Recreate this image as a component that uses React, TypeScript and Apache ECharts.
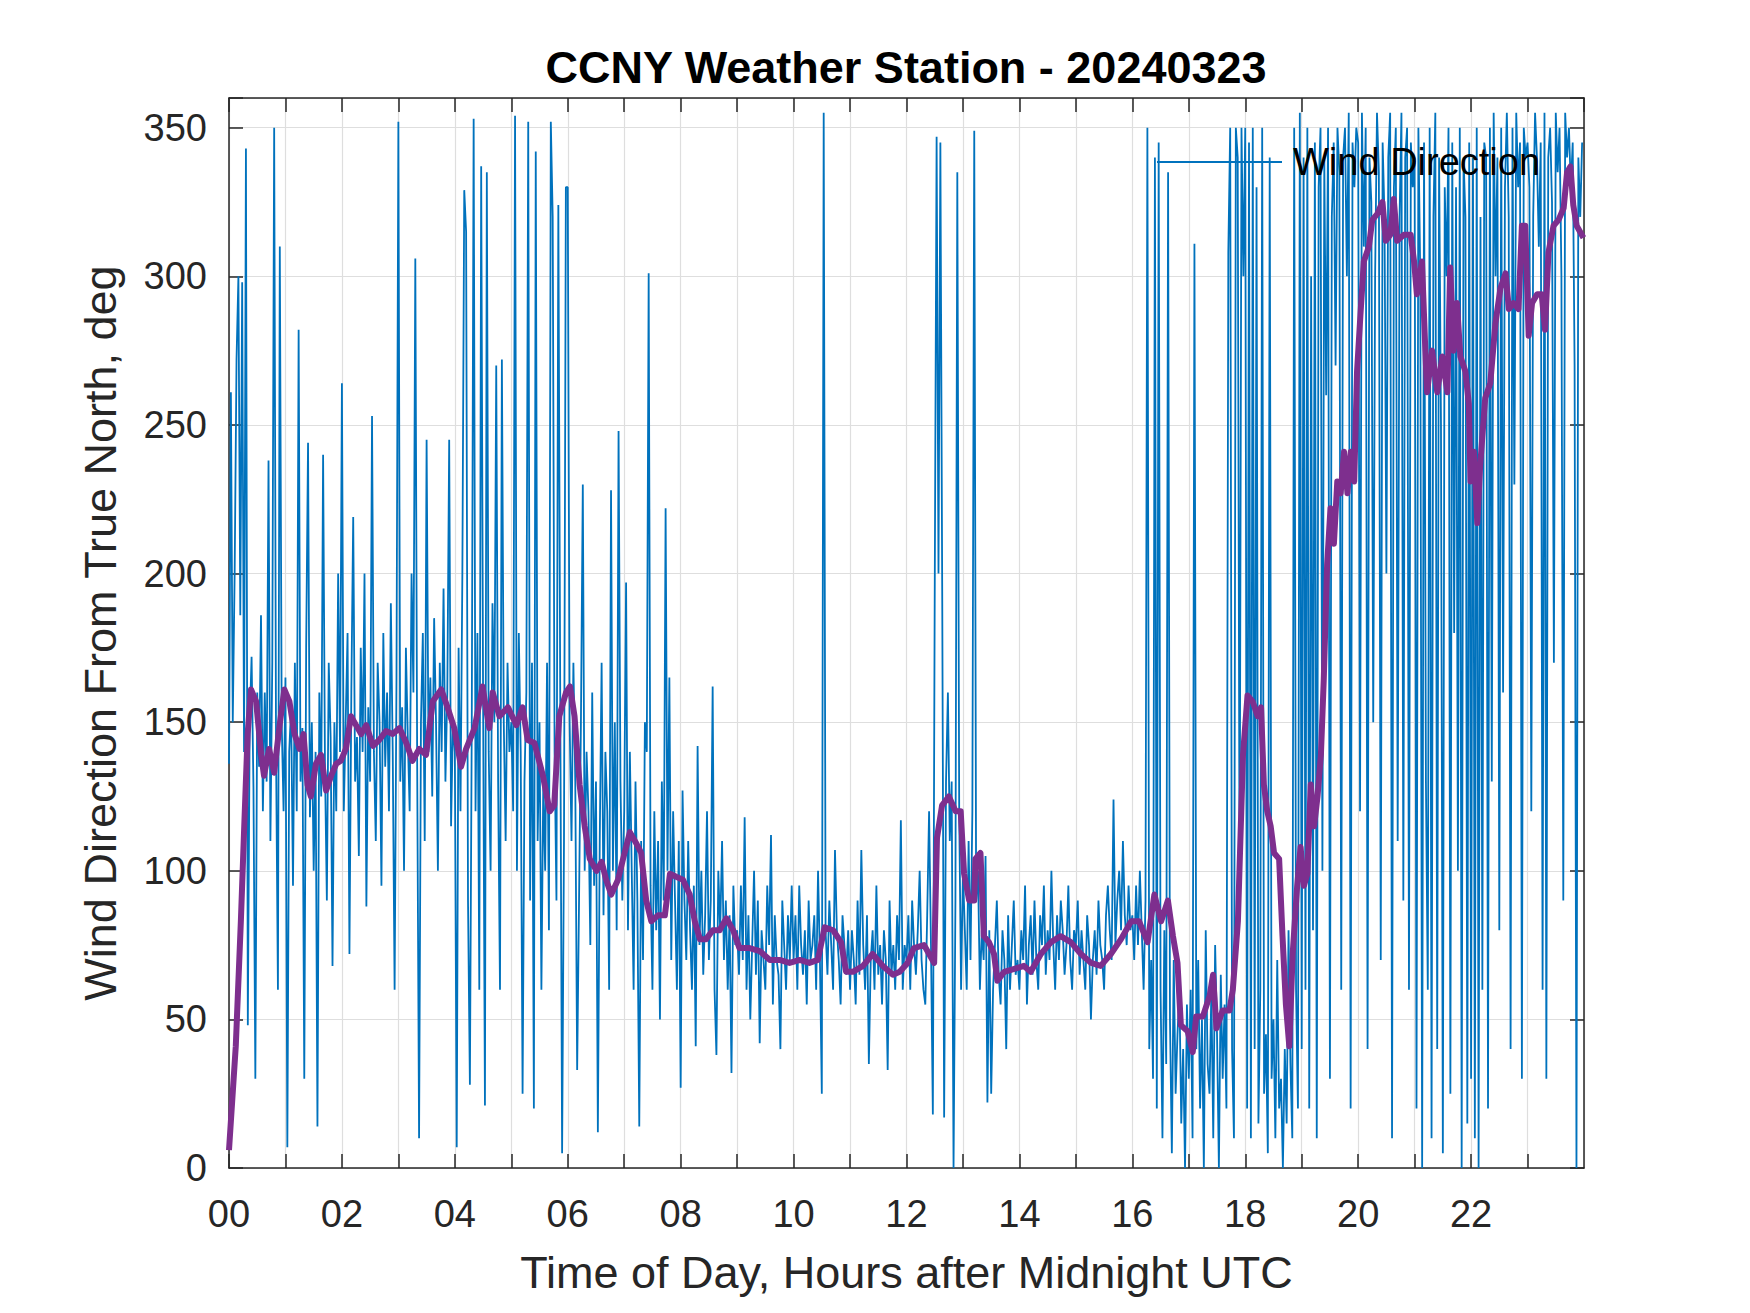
import { useEffect, useRef } from "react";
import * as echarts from "echarts";

// wind direction samples, one every 2 minutes, 4 hours per block
const dirH00to03 = [
  136, 261, 150, 200, 272, 300, 186, 298, 140, 343, 48, 150, 172, 128, 30, 160, 135, 186, 120, 160, 130, 238, 110, 170, 350, 140, 60, 310, 150, 120,
  165, 7, 140, 155, 95, 170, 120, 282, 130, 148, 30, 175, 244, 118, 150, 100, 140, 14, 160, 125, 240, 135, 90, 170, 145, 68, 150, 120, 200, 140,
  264, 120, 150, 180, 72, 160, 219, 130, 145, 105, 175, 140, 200, 88, 155, 130, 253, 140, 110, 170, 150, 95, 180, 135, 160, 120, 190, 140, 60, 165,
  352, 130, 155, 100, 175, 145, 120, 200, 160, 306, 135, 10, 150, 180, 110, 245, 140, 165, 125, 185, 150, 100, 170, 140, 195, 130, 160, 245, 115, 150,
];
const dirH04to07 = [
  140, 7, 175, 120, 200, 329, 315, 90, 28, 150, 353, 120, 180, 60, 337, 160, 21, 335, 140, 100, 190, 150, 270, 130, 60, 272, 150, 110, 170, 140,
  150, 120, 354, 100, 180, 140, 25, 130, 160, 352, 90, 170, 20, 342, 110, 150, 60, 130, 100, 170, 80, 352, 320, 140, 90, 324, 160, 5, 110, 330,
  330, 150, 110, 170, 130, 33, 90, 150, 230, 100, 140, 120, 75, 160, 95, 130, 12, 110, 170, 85, 140, 120, 60, 228, 100, 150, 80, 248, 130, 90,
  120, 197, 80, 140, 100, 60, 130, 90, 14, 110, 70, 150, 140, 301, 95, 60, 120, 80, 110, 50, 130, 90, 222, 100, 165, 70, 120, 90, 60, 110,
];
const dirH08to11 = [
  27, 127, 90, 70, 110, 80, 60, 95, 41, 142, 75, 100, 65, 85, 120, 70, 90, 162, 60, 38, 100, 80, 110, 70, 90, 60, 85, 32, 95, 75,
  80, 65, 95, 70, 118, 60, 85, 50, 75, 100, 65, 90, 42, 80, 70, 60, 95, 75, 112, 55, 85, 70, 65, 40, 90, 75, 60, 85, 70, 95,
  70, 85, 60, 95, 75, 65, 80, 55, 90, 70, 75, 85, 60, 100, 70, 25, 355, 80, 65, 90, 75, 60, 107, 80, 70, 55, 85, 75, 65, 80,
  60, 80, 70, 55, 90, 65, 107, 75, 60, 85, 35, 70, 80, 60, 95, 65, 75, 55, 80, 70, 33, 90, 65, 75, 60, 85, 70, 117, 60, 75,
];
const dirH12to15 = [
  70, 85, 60, 90, 75, 65, 80, 100, 70, 60, 55, 85, 120, 75, 18, 194, 347, 200, 345, 190, 17, 130, 160, 110, 130, 0, 90, 335, 120, 60,
  100, 80, 60, 110, 70, 120, 349, 90, 100, 60, 80, 70, 105, 22, 80, 25, 60, 75, 90, 65, 55, 80, 70, 40, 85, 60, 75, 90, 65, 70,
  60, 80, 70, 95, 55, 75, 85, 65, 90, 70, 60, 85, 75, 95, 65, 80, 70, 100, 75, 60, 85, 70, 90, 80, 65, 75, 95, 70, 60, 80,
  75, 90, 65, 80, 70, 60, 85, 75, 50, 70, 80, 65, 90, 75, 70, 60, 85, 95, 80, 70, 124, 75, 90, 100, 80, 110, 85, 75, 95, 80,
];
const dirH16to19 = [
  85, 70, 95, 75, 100, 80, 60, 90, 350, 40, 70, 30, 340, 20, 345, 60, 10, 80, 35, 335, 50, 5, 70, 25, 45, 60, 15, 40, 0, 55,
  30, 60, 10, 311, 40, 70, 20, 50, 0, 80, 35, 25, 60, 10, 75, 45, 0, 65, 30, 55, 20, 308, 350, 40, 10, 350, 340, 90, 350, 300,
  350, 20, 345, 10, 350, 40, 330, 15, 60, 350, 25, 45, 5, 340, 30, 50, 10, 70, 20, 30, 0, 40, 15, 80, 35, 10, 350, 60, 20, 355,
  40, 340, 60, 350, 20, 300, 80, 345, 10, 330, 350, 100, 340, 260, 350, 30, 320, 345, 270, 350, 335, 60, 340, 350, 300, 355, 20, 345, 330, 350,
];
const dirH20to23 = [
  345, 120, 355, 310, 350, 40, 340, 325, 150, 300, 355, 335, 70, 345, 320, 200, 340, 355, 10, 330, 350, 110, 320, 355, 90, 340, 350, 60, 345, 330,
  340, 20, 350, 300, 0, 345, 130, 60, 350, 10, 320, 355, 40, 340, 250, 5, 330, 300, 350, 25, 345, 180, 330, 100, 350, 0, 340, 320, 15, 345,
  30, 340, 10, 350, 0, 320, 60, 345, 340, 20, 350, 130, 355, 300, 340, 80, 350, 160, 330, 355, 320, 40, 350, 230, 355, 330, 345, 30, 350, 340,
  345, 330, 120, 320, 355, 340, 310, 345, 60, 355, 30, 340, 350, 325, 170, 355, 335, 350, 300, 90, 355, 340, 350, 330, 345, 270, 0, 340, 320, 345,
];

const avgHours = [
  0.0, 0.12, 0.21, 0.27, 0.33, 0.39, 0.48, 0.57, 0.62, 0.71, 0.8, 0.89, 0.98, 1.07, 1.16, 1.25, 1.32, 1.39, 1.45, 1.54,
  1.63, 1.72, 1.81, 1.9, 1.98, 2.07, 2.16, 2.25, 2.34, 2.43, 2.55, 2.66, 2.78, 2.9, 3.02, 3.14, 3.25, 3.37, 3.49, 3.61,
  3.76, 3.87, 3.99, 4.11, 4.2, 4.35, 4.49, 4.61, 4.67, 4.79, 4.94, 5.09, 5.2, 5.29, 5.41, 5.56, 5.68, 5.76, 5.85, 5.97,
  6.04, 6.12, 6.21, 6.3, 6.39, 6.51, 6.6, 6.68, 6.77, 6.89, 6.98, 7.1, 7.22, 7.3, 7.39, 7.48, 7.6, 7.72, 7.81, 7.92,
  8.04, 8.16, 8.25, 8.34, 8.45, 8.57, 8.69, 8.81, 8.93, 9.04, 9.22, 9.4, 9.58, 9.75, 9.93, 10.11, 10.28, 10.43, 10.55, 10.7,
  10.84, 10.93, 11.05, 11.23, 11.4, 11.58, 11.76, 11.88, 12.02, 12.13, 12.31, 12.49, 12.54, 12.63, 12.75, 12.87, 12.96, 13.02, 13.11, 13.2,
  13.22, 13.31, 13.37, 13.46, 13.55, 13.61, 13.73, 13.91, 14.08, 14.2, 14.38, 14.56, 14.73, 14.91, 15.09, 15.27, 15.44, 15.62, 15.8, 15.98,
  16.12, 16.27, 16.39, 16.51, 16.63, 16.72, 16.8, 16.86, 16.98, 17.07, 17.13, 17.25, 17.37, 17.43, 17.49, 17.6, 17.72, 17.78, 17.87, 17.96,
  18.04, 18.13, 18.22, 18.28, 18.33, 18.39, 18.45, 18.51, 18.6, 18.66, 18.72, 18.78, 18.84, 18.92, 18.98, 19.04, 19.1, 19.16, 19.22, 19.28,
  19.34, 19.39, 19.45, 19.51, 19.57, 19.63, 19.69, 19.75, 19.81, 19.87, 19.93, 19.98, 20.04, 20.1, 20.19, 20.25, 20.34, 20.43, 20.49, 20.57,
  20.63, 20.69, 20.81, 20.93, 20.99, 21.04, 21.13, 21.19, 21.22, 21.31, 21.4, 21.49, 21.58, 21.63, 21.69, 21.75, 21.81, 21.9, 21.96, 21.99,
  22.05, 22.11, 22.16, 22.25, 22.34, 22.43, 22.52, 22.61, 22.67, 22.75, 22.84, 22.9, 22.96, 23.02, 23.08, 23.17, 23.25, 23.31, 23.37, 23.46,
  23.55, 23.64, 23.7, 23.76, 23.81, 23.87, 23.99,
];
const avgDeg = [
  6, 41, 83, 115, 146, 161, 157, 139, 132, 141, 133, 148, 161, 157, 146, 141, 146, 129, 125, 136,
  139, 127, 132, 136, 137, 141, 152, 149, 146, 149, 142, 144, 147, 146, 148, 143, 137, 141, 139, 157,
  161, 155, 148, 135, 141, 148, 162, 148, 160, 152, 155, 149, 155, 144, 143, 132, 120, 122, 152, 160,
  162, 152, 129, 115, 104, 100, 103, 97, 92, 97, 104, 113, 109, 106, 90, 83, 85, 85, 99, 98,
  97, 92, 83, 77, 77, 80, 80, 84, 80, 74, 74, 73, 70, 70, 69, 70, 69, 70, 81, 80,
  76, 66, 66, 68, 72, 68, 65, 66, 69, 74, 75, 69, 111, 122, 125, 120, 120, 99, 90, 90,
  104, 106, 78, 76, 72, 63, 66, 67, 68, 66, 72, 76, 78, 76, 72, 69, 68, 72, 77, 83,
  83, 76, 92, 83, 90, 78, 69, 48, 46, 39, 51, 51, 58, 65, 47, 53, 53, 60, 83, 139,
  159, 157, 152, 155, 129, 120, 115, 106, 104, 78, 55, 41, 72, 95, 108, 95, 99, 129, 115, 125,
  139, 164, 203, 222, 210, 231, 227, 241, 227, 241, 231, 268, 287, 305, 310, 319, 321, 325, 312, 314,
  326, 312, 314, 314, 305, 294, 305, 275, 261, 275, 261, 273, 261, 303, 275, 291, 273, 268, 257, 231,
  241, 217, 236, 259, 264, 284, 296, 301, 289, 291, 289, 317, 317, 280, 291, 294, 294, 282, 308, 317,
  319, 323, 335, 337, 324, 317, 313,
];

const titleText = "CCNY Weather Station - 20240323";
const xName = "Time of Day, Hours after Midnight UTC";
const yName = "Wind Direction From True North, deg";
const seriesName = "Wind Direction";

const FONT = "'Liberation Sans', Arial, Helvetica, sans-serif";
const AXIS = "#262626";
const GRID = "#dedede";

function WindChart() {
  const ref = useRef<HTMLDivElement>(null);
  useEffect(() => {
    if (!ref.current) return;
    const chart = echarts.init(ref.current, undefined, { renderer: "svg" });
    const raw = [...dirH00to03, ...dirH04to07, ...dirH08to11, ...dirH12to15, ...dirH16to19, ...dirH20to23];
    const rawData = raw.map((v, i) => [(i * 2) / 60, v]);
    const avgData = avgHours.map((h, i) => [h, avgDeg[i]]);
    const hourLabel = (v: number) => (v % 2 === 0 && v < 24 ? String(v).padStart(2, "0") : "");

    chart.setOption({
      animation: false,
      backgroundColor: "#ffffff",
      title: {
        text: titleText,
        left: 901,
        top: 40,
        textAlign: "center",
        textStyle: { fontFamily: FONT, fontSize: 45, fontWeight: "bold", color: "#000000", lineHeight: 45 },
      },
      legend: {
        data: [{ name: seriesName, icon: "rect" }],
        left: 1152,
        top: 138,
        itemWidth: 125,
        itemHeight: 2,
        textStyle: { fontFamily: FONT, fontSize: 38, color: "#000000", lineHeight: 38, padding: [0, 0, 0, 6] },
      },
      grid: { left: 229, right: 166, top: 98, bottom: 145 },
      xAxis: [
        {
          type: "value",
          min: 0,
          max: 24,
          interval: 1,
          name: xName,
          nameLocation: "middle",
          nameGap: 82,
          nameTextStyle: { fontFamily: FONT, fontSize: 45, color: AXIS },
          axisLine: { show: true, onZero: false, lineStyle: { color: AXIS, width: 1.5 } },
          axisTick: { show: true, inside: true, length: 14, lineStyle: { color: AXIS, width: 1.5 } },
          axisLabel: { formatter: hourLabel, margin: 27, fontFamily: FONT, fontSize: 38, color: AXIS, showMaxLabel: false },
          splitLine: { show: true, lineStyle: { color: GRID, width: 1.2 } },
        },
        {
          type: "value",
          position: "top",
          min: 0,
          max: 24,
          interval: 1,
          axisLine: { show: true, onZero: false, lineStyle: { color: AXIS, width: 1.5 } },
          axisTick: { show: true, inside: true, length: 14, lineStyle: { color: AXIS, width: 1.5 } },
          axisLabel: { show: false },
          splitLine: { show: false },
        },
      ],
      yAxis: [
        {
          type: "value",
          min: 0,
          max: 360,
          interval: 50,
          name: yName,
          nameLocation: "middle",
          nameGap: 106,
          nameTextStyle: { fontFamily: FONT, fontSize: 45, color: AXIS },
          axisLine: { show: true, onZero: false, lineStyle: { color: AXIS, width: 1.5 } },
          axisTick: { show: true, inside: true, length: 14, lineStyle: { color: AXIS, width: 1.5 } },
          axisLabel: {
            formatter: (v: number) => (v > 350 ? "" : String(v)),
            margin: 22,
            fontFamily: FONT,
            fontSize: 38,
            color: AXIS,
          },
          splitLine: { show: true, lineStyle: { color: GRID, width: 1.2 } },
        },
        {
          type: "value",
          position: "right",
          min: 0,
          max: 360,
          interval: 50,
          axisLine: { show: true, onZero: false, lineStyle: { color: AXIS, width: 1.5 } },
          axisTick: { show: true, inside: true, length: 14, lineStyle: { color: AXIS, width: 1.5 } },
          axisLabel: { show: false },
          splitLine: { show: false },
        },
      ],
      series: [
        {
          name: seriesName,
          type: "line",
          data: rawData,
          showSymbol: false,
          symbol: "none",
          color: "#0072BD",
          lineStyle: { color: "#0072BD", width: 1.8 },
          z: 2,
        },
        {
          name: "Running Mean",
          type: "line",
          data: avgData,
          showSymbol: false,
          symbol: "none",
          color: "#7E2F8E",
          lineStyle: { color: "#7E2F8E", width: 6, join: "round" },
          z: 3,
        },
      ],
    });
    return () => chart.dispose();
  }, []);
  return <div ref={ref} style={{ position: "absolute", left: 0, top: 0, width: 1750, height: 1313 }} />;
}

export default function App() {
  return <WindChart />;
}
